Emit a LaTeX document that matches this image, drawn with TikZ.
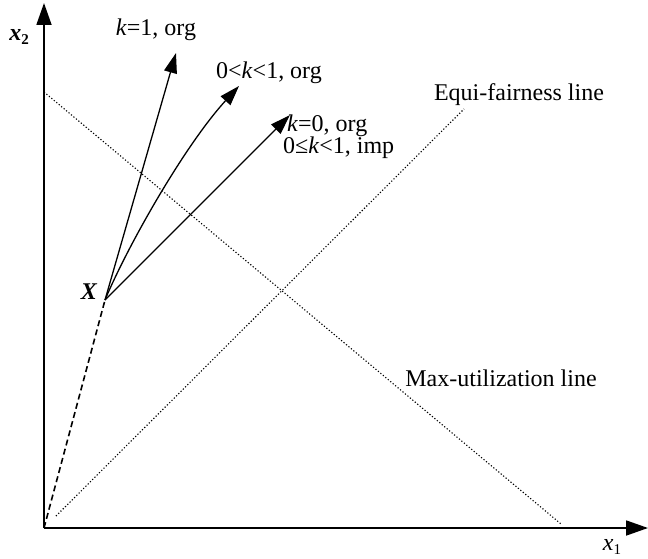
\documentclass[tikz,border=0pt]{standalone}
\usepackage{fontspec}
\setmainfont{Liberation Serif}
\usetikzlibrary{arrows.meta}
\begin{document}
\begin{tikzpicture}[x=1pt,y=-1pt,
  axis/.style={line width=1.8pt, -{Triangle[length=22pt,width=15pt]}},
  vec/.style={line width=1.3pt, -{Triangle[length=20pt,width=13pt]}},
  guide/.style={line width=1.1pt, dash pattern=on 1.2pt off 2pt},
  path0/.style={line width=1.6pt, dash pattern=on 6pt off 3.5pt},
  lbl/.style={font=\fontsize{24}{28}\selectfont, inner sep=0pt}]
\useasboundingbox (0,0) rectangle (648,559);
% key points
\coordinate (O) at (44,528);
\coordinate (Ytip) at (44,3);
\coordinate (Xtip) at (648,528);
\coordinate (P) at (105,300);
\coordinate (T1) at (176,53);
\coordinate (T2) at (239,86);
\coordinate (T3) at (290,115);
\coordinate (MU1) at (44,92);
\coordinate (MU2) at (561,524);
\coordinate (EF1) at (56,516);
\coordinate (EF2) at (464,109);
% guide lines
\draw[guide] (MU1) -- (MU2);
\draw[guide] (EF1) -- (EF2);
% axes
\draw[axis] (O) -- (Ytip);
\draw[axis] (O) -- (Xtip);
% path to X
\draw[path0] (O) -- (P);
% vectors
\draw[vec] (P) -- (T1);
\draw[vec] (P) .. controls (128,245) and (185,145) .. (T2);
\draw[vec] (P) -- (T3);
% labels
\node[lbl] (lx2) at (19,37) {\textbf{\textit{x}}\raisebox{-0.35ex}{\fontsize{15}{17}\selectfont\textbf{2}}};
\node[lbl] (lx1) at (612,547) {\textit{x}\raisebox{-0.35ex}{\fontsize{15}{17}\selectfont 1}};
\node[lbl] (lX) at (89,292) {\textbf{\textit{X}}};
\node[lbl] (l1) at (156,30) {\textit{k}=1, org};
\node[lbl] (l2) at (269,73) {0<\textit{k}<1, org};
\node[lbl, anchor=west] (l3) at (287,126) {\textit{k}=0, org};
\node[lbl, anchor=west] (l4) at (283,148) {0≤\textit{k}<1, imp};
\node[lbl] (lef) at (519,95) {Equi-fairness line};
\node[lbl] (lmu) at (501,378) {Max-utilization line};
\end{tikzpicture}
\end{document}
